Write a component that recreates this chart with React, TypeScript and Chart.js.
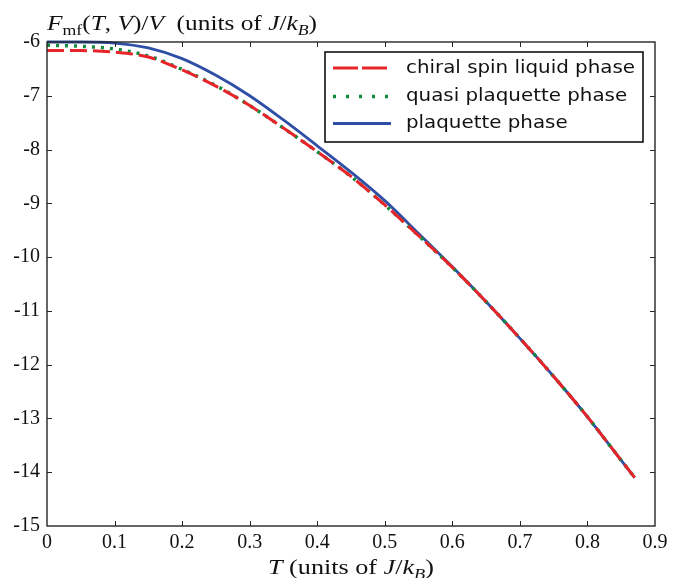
import React, { useEffect, useRef } from "react";
import { Chart, registerables } from "chart.js";

Chart.register(...registerables);

// ---- data ----
const temperatures = [0, 0.05, 0.1, 0.15, 0.2, 0.25, 0.3, 0.35, 0.4, 0.45, 0.5, 0.55, 0.6, 0.65, 0.7, 0.75, 0.8, 0.85, 0.87];
const chiralSpinLiquid = [-6.16, -6.16, -6.19, -6.28, -6.52, -6.82, -7.18, -7.6, -8.04, -8.5, -9.03, -9.6, -10.19, -10.83, -11.51, -12.22, -12.97, -13.78, -14.1];
const quasiPlaquette = [-6.06, -6.08, -6.13, -6.26, -6.51, -6.81, -7.18, -7.6, -8.04, -8.5, -9.03, -9.6, -10.19, -10.83, -11.51, -12.22, -12.97, -13.78, -14.1];
const plaquette = [-6.0, -6.0, -6.02, -6.11, -6.31, -6.62, -7.0, -7.45, -7.93, -8.42, -8.95, -9.56, -10.18, -10.83, -11.51, -12.22, -12.97, -13.78, -14.1];

const seriesLabels = ["chiral spin liquid phase", "quasi plaquette phase", "plaquette phase"];
const seriesColors = ["#e8242a", "#128a3c", "#2f4ea6"];

const xTickValues = [0, 0.1, 0.2, 0.3, 0.4, 0.5, 0.6, 0.7, 0.8, 0.9];
const yTickValues = [-15, -14, -13, -12, -11, -10, -9, -8, -7, -6];

const SERIF = '"Liberation Serif", "Times New Roman", serif';
const SANS = '"DejaVu Sans", "Liberation Sans", sans-serif';

type Seg = { t: string; it?: boolean; sub?: boolean };

const yTitleSegs: Seg[] = [
  { t: "F", it: true },
  { t: "mf", sub: true },
  { t: "(" },
  { t: "T", it: true },
  { t: ", " },
  { t: "V", it: true },
  { t: ")/" },
  { t: "V", it: true },
  { t: "  (units of " },
  { t: "J", it: true },
  { t: "/" },
  { t: "k", it: true },
  { t: "B", it: true, sub: true },
  { t: ")" },
];

const xTitleSegs: Seg[] = [
  { t: "T", it: true },
  { t: " (units of " },
  { t: "J", it: true },
  { t: "/" },
  { t: "k", it: true },
  { t: "B", it: true, sub: true },
  { t: ")" },
];

function drawRich(
  ctx: CanvasRenderingContext2D,
  segs: Seg[],
  x: number,
  y: number,
  size: number,
  targetWidth: number,
  align: "left" | "center"
) {
  const fontFor = (s: Seg) =>
    `${s.it ? "italic " : ""}${s.sub ? Math.round(size * 0.7) : size}px ${SERIF}`;
  const widths = segs.map((s) => {
    ctx.font = fontFor(s);
    return ctx.measureText(s.t).width;
  });
  const natural = widths.reduce((a, b) => a + b, 0);
  const sx = targetWidth / natural;
  ctx.save();
  const startX = align === "center" ? x - targetWidth / 2 : x;
  ctx.translate(startX, y);
  ctx.scale(sx, 1);
  ctx.textBaseline = "alphabetic";
  ctx.textAlign = "left";
  ctx.fillStyle = "#111";
  let cx = 0;
  segs.forEach((s, i) => {
    ctx.font = fontFor(s);
    ctx.fillText(s.t, cx, s.sub ? size * 0.25 : 0);
    cx += widths[i];
  });
  ctx.restore();
}

const legendDash: number[][] = [[25, 4], [3, 10], []];

const decorPlugin = {
  id: "decor",
  afterDatasetsDraw(chart: any) {
    const { ctx, chartArea: a, scales } = chart;
    const xs = scales.x;
    const ys = scales.y;
    ctx.save();
    // frame
    ctx.strokeStyle = "#262626";
    ctx.lineWidth = 1.4;
    ctx.setLineDash([]);
    ctx.strokeRect(a.left, a.top, a.right - a.left, a.bottom - a.top);
    // inward ticks
    const tl = 5;
    ctx.lineWidth = 1;
    ctx.beginPath();
    xTickValues.forEach((v) => {
      const px = Math.round(xs.getPixelForValue(v)) + 0.5;
      if (px <= a.left + 1 || px >= a.right - 1) return;
      ctx.moveTo(px, a.bottom);
      ctx.lineTo(px, a.bottom - tl);
      ctx.moveTo(px, a.top);
      ctx.lineTo(px, a.top + tl);
    });
    yTickValues.forEach((v) => {
      const py = Math.round(ys.getPixelForValue(v)) + 0.5;
      if (py <= a.top + 1 || py >= a.bottom - 1) return;
      ctx.moveTo(a.left, py);
      ctx.lineTo(a.left + tl, py);
      ctx.moveTo(a.right, py);
      ctx.lineTo(a.right - tl, py);
    });
    ctx.stroke();

    // legend
    const lw = 318;
    const lh = 90;
    const lx = a.right - 12 - lw;
    const ly = a.top + 10;
    ctx.fillStyle = "#ffffff";
    ctx.fillRect(lx, ly, lw, lh);
    ctx.strokeStyle = "#111";
    ctx.lineWidth = 1.6;
    ctx.strokeRect(lx, ly, lw, lh);
    ctx.font = `18px ${SANS}`;
    const natural = ctx.measureText(seriesLabels[0]).width;
    const sx = 229 / natural;
    const rows = [16, 44.5, 71.5];
    seriesLabels.forEach((label, i) => {
      const ry = ly + rows[i];
      ctx.save();
      ctx.strokeStyle = seriesColors[i];
      ctx.lineWidth = i === 1 ? 3.5 : 3;
      ctx.lineCap = "butt";
      ctx.setLineDash(legendDash[i]);
      ctx.beginPath();
      ctx.moveTo(lx + 8, ry);
      ctx.lineTo(lx + 66, ry);
      ctx.stroke();
      ctx.restore();
      ctx.save();
      ctx.translate(lx + 81, ry);
      ctx.scale(sx, 1);
      ctx.fillStyle = "#111";
      ctx.textBaseline = "middle";
      ctx.textAlign = "left";
      ctx.font = `18px ${SANS}`;
      ctx.fillText(label, 0, 0);
      ctx.restore();
    });
    ctx.restore();
  },
  afterDraw(chart: any) {
    const { ctx, chartArea: a } = chart;
    drawRich(ctx, yTitleSegs, a.left, 30, 20, 270, "left");
    drawRich(ctx, xTitleSegs, (a.left + a.right) / 2, 574, 20, 166, "center");
  },
};

export default function App() {
  const ref = useRef<HTMLCanvasElement>(null);
  useEffect(() => {
    document.body.style.margin = "0";
    const canvas = ref.current!;
    const mk = (vals: number[]) => temperatures.map((t, i) => ({ x: t, y: vals[i] }));
    const chart = new Chart(canvas, {
      type: "line",
      data: {
        datasets: [
          {
            label: seriesLabels[0],
            data: mk(chiralSpinLiquid),
            borderColor: seriesColors[0],
            borderWidth: 3,
            borderDash: [17, 6],
            pointRadius: 0,
            fill: false,
            cubicInterpolationMode: "monotone",
            clip: 6,
          },
          {
            label: seriesLabels[1],
            data: mk(quasiPlaquette),
            borderColor: seriesColors[1],
            borderWidth: 3.5,
            borderDash: [3, 6],
            borderCapStyle: "butt",
            pointRadius: 0,
            fill: false,
            cubicInterpolationMode: "monotone",
            clip: 6,
          },
          {
            label: seriesLabels[2],
            data: mk(plaquette),
            borderColor: seriesColors[2],
            borderWidth: 2.8,
            pointRadius: 0,
            fill: false,
            cubicInterpolationMode: "monotone",
            clip: 6,
          },
        ],
      },
      options: {
        responsive: false,
        animation: false,
        layout: { padding: { top: 42, right: 27, left: 0, bottom: 0 } },
        plugins: {
          legend: { display: false },
          tooltip: { enabled: false },
          title: { display: false },
        },
        scales: {
          x: {
            type: "linear",
            min: 0,
            max: 0.9,
            grid: { display: false, drawTicks: false },
            border: { display: false },
            afterFit: (s: any) => {
              s.height = 52;
            },
            afterBuildTicks: (s: any) => {
              s.ticks = xTickValues.map((v) => ({ value: v }));
            },
            ticks: {
              autoSkip: false,
              maxRotation: 0,
              padding: 5,
              color: "#111",
              font: { family: SERIF, size: 20 },
              callback: (v: any) => String(Number(Number(v).toFixed(1))),
            },
          },
          y: {
            type: "linear",
            min: -15,
            max: -6,
            grid: { display: false, drawTicks: false },
            border: { display: false },
            afterFit: (s: any) => {
              s.width = 47;
            },
            afterBuildTicks: (s: any) => {
              s.ticks = yTickValues.map((v) => ({ value: v }));
            },
            ticks: {
              autoSkip: false,
              padding: 7,
              color: "#111",
              font: { family: SERIF, size: 20 },
              callback: (v: any) => String(v),
            },
          },
        },
      },
      plugins: [decorPlugin],
    });
    return () => chart.destroy();
  }, []);
  return (
    <div style={{ width: 682, height: 578 }}>
      <canvas ref={ref} width={682} height={578} style={{ display: "block" }} />
    </div>
  );
}
